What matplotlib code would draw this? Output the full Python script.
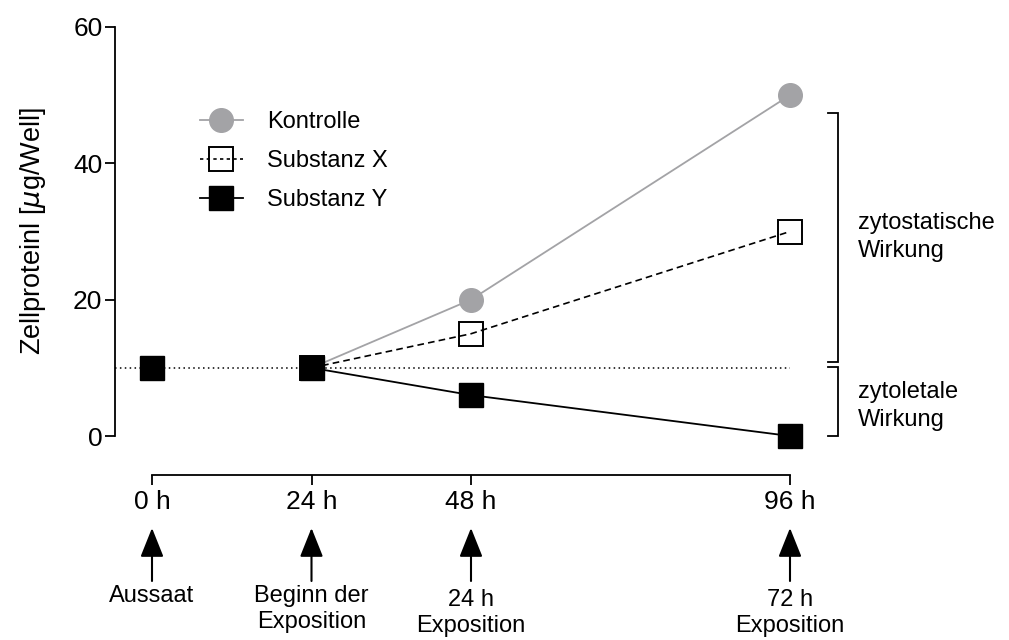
import matplotlib
matplotlib.use("Agg")
import matplotlib.pyplot as plt
from matplotlib.lines import Line2D

plt.rcParams['font.family'] = ['Liberation Sans', 'DejaVu Sans']

# ---- data ----
hours_ctrl = [24, 48, 96]
kontrolle = [10, 20, 50]
hours_x = [24, 48, 96]
substanz_x = [10, 15, 30]
hours_y = [24, 48, 96]
substanz_y = [10, 6, 0]
seed_hours = [0]
seed_value = [10]
baseline = 10

xticks = [0, 24, 48, 96]
xtick_labels = ['0 h', '24 h', '48 h', '96 h']
yticks = [0, 20, 40, 60]
event_labels = ['Aussaat', 'Beginn der\nExposition', '24 h\nExposition', '72 h\nExposition']
series_names = ['Kontrolle', 'Substanz X', 'Substanz Y']

W, H = 1009, 640
fig = plt.figure(figsize=(W / 100, H / 100), dpi=100)

# axes placement in pixels
px0, px96 = 152, 790
ppx = (px96 - px0) / 96.0
ax_left_px, ax_right_px = 115, 800
y0_px, y60_px = 436, 27
ax = fig.add_axes([ax_left_px / W, (H - y0_px) / H,
                   (ax_right_px - ax_left_px) / W, (y0_px - y60_px) / H])
xmin = (ax_left_px - px0) / ppx
xmax = (ax_right_px - px0) / ppx
ax.set_xlim(xmin, xmax)
ax.set_ylim(0, 60)

gray = '#a3a3a6'
ms = 17
ax.plot([xmin, 96], [baseline, baseline], linestyle=(0, (1, 2.2)), color='black', lw=1.1, zorder=1)
ax.plot(hours_ctrl, kontrolle, '-', color=gray, lw=1.3, marker='o', ms=ms,
        mfc=gray, mec=gray, zorder=2, clip_on=False)
ax.plot(hours_x, substanz_x, linestyle=(0, (4, 2.5)), color='black', lw=1.2, marker='s', ms=ms,
        mfc='none', mec='black', mew=1.4, zorder=3, clip_on=False)
ax.plot(hours_y, substanz_y, '-', color='black', lw=1.3, marker='s', ms=ms,
        mfc='black', mec='black', zorder=4, clip_on=False)
ax.plot(seed_hours, seed_value, linestyle='none', marker='s', ms=ms,
        mfc='black', mec='black', zorder=4, clip_on=False)

# spines
for s in ['top', 'right']:
    ax.spines[s].set_visible(False)
ax.spines['left'].set_linewidth(1.3)
ax.spines['bottom'].set_linewidth(1.3)
ax.spines['left'].set_bounds(0, 60)
ax.spines['bottom'].set_bounds(0, 96)
ax.spines['bottom'].set_position(('outward', 28))
ax.set_xticks(xticks)
ax.set_xticklabels(xtick_labels)
ax.set_yticks(yticks)
ax.tick_params(axis='both', direction='out', length=7, width=1.3, labelsize=19, colors='black')
ax.tick_params(axis='x', pad=4)
ax.tick_params(axis='y', pad=2)
ax.set_ylabel('Zellproteinl [$\\mu$g/Well]', fontsize=19.5, labelpad=18)

# legend
handles = [
    Line2D([], [], color=gray, lw=1.3, marker='o', ms=ms, mfc=gray, mec=gray),
    Line2D([], [], color='black', lw=1.2, linestyle=(0, (2, 2)), marker='s', ms=ms, mfc='none', mec='black', mew=1.4),
    Line2D([], [], color='black', lw=1.3, marker='s', ms=ms, mfc='black', mec='black'),
]
fig.legend(handles, series_names, loc='center left', frameon=False, fontsize=17,
           bbox_to_anchor=(200 / W, (H - 161) / H), handlelength=1.8,
           handletextpad=1.05, labelspacing=0.72, borderaxespad=0, borderpad=0)

# brackets on the right
def bracket(top, bottom):
    xb = (838 - px0) / ppx
    xt = (828 - px0) / ppx
    ax.plot([xt, xb, xb, xt], [top, top, bottom, bottom], color='black', lw=1.3,
            clip_on=False, solid_joinstyle='miter')

bracket(47.4, 10.8)
bracket(10.1, 0)
fig.text(858 / W, (H - 237) / H, 'zytostatische\nWirkung', fontsize=17, va='center', ha='left',
         linespacing=1.35)
fig.text(858 / W, (H - 406) / H, 'zytoletale\nWirkung', fontsize=17, va='center', ha='left',
         linespacing=1.35)

# arrows and event labels below the x axis
label_y = [596, 609, 613, 613]
for xv, lab, ly in zip(xticks, event_labels, label_y):
    ax.annotate('', xy=(xv, (H - 528) / H), xytext=(xv, (H - 581) / H),
                xycoords=('data', 'figure fraction'), textcoords=('data', 'figure fraction'),
                arrowprops=dict(arrowstyle='-|>,head_length=1.8,head_width=0.72', lw=1.5,
                                color='black', shrinkA=0, shrinkB=0, mutation_scale=10),
                annotation_clip=False)
    ax.annotate(lab, xy=(xv, (H - ly) / H), xycoords=('data', 'figure fraction'),
                ha='center', va='center', fontsize=17, linespacing=1.2,
                annotation_clip=False)

fig.savefig('out.png', dpi=100)
